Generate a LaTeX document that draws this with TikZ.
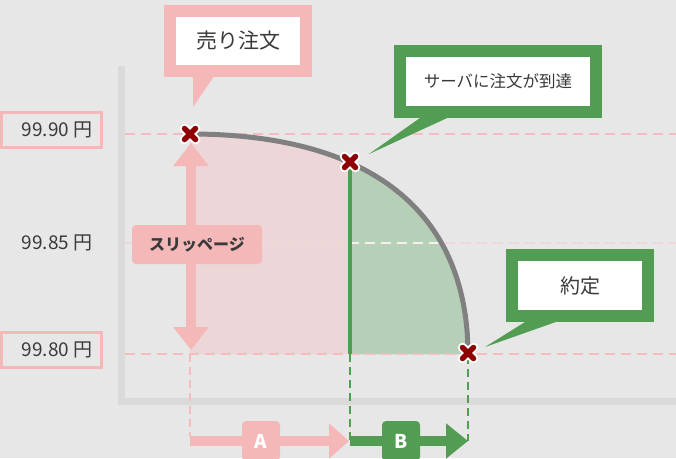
\documentclass[tikz,border=0pt]{standalone}
\usepackage{fontspec}
\setmainfont{Noto Sans CJK JP}
\usetikzlibrary{arrows.meta,shadows}
\definecolor{bg}{HTML}{E7E7E7}
\definecolor{axisc}{HTML}{DADADA}
\definecolor{pinkc}{HTML}{F5B8B8}
\definecolor{pinkdash}{HTML}{F2BDBF}
\definecolor{pinkfill}{HTML}{ECD6D8}
\definecolor{greenc}{HTML}{529C53}
\definecolor{greenfill}{HTML}{B6CFB7}
\definecolor{xred}{HTML}{8E0000}
\definecolor{txt}{HTML}{3A3A3A}
\definecolor{curvec}{HTML}{808080}
\definecolor{faint}{HTML}{F0D6D7}
\begin{document}
\begin{tikzpicture}[x=1pt,y=-1pt,
  pricebox/.style={draw=pinkc,line width=3pt,minimum width=100pt,minimum height=35pt,inner sep=0pt},
  pricetxt/.style={text=txt,font=\fontsize{19}{19}\selectfont,inner sep=0pt},
  hdash/.style={pinkdash,line width=2pt,dash pattern=on 10pt off 6pt},
  vdashp/.style={pinkdash,line width=2pt,dash pattern=on 8pt off 5pt},
  vdashg/.style={greenc,line width=2pt,dash pattern=on 8pt off 5pt},
  callp/.style={draw=pinkc,fill=white,line width=12pt,inner sep=0pt,text=txt,
    drop shadow={opacity=0.08,shadow xshift=3pt,shadow yshift=-3pt}},
  callg/.style={draw=greenc,fill=white,line width=12pt,inner sep=0pt,text=txt,
    drop shadow={opacity=0.08,shadow xshift=3pt,shadow yshift=-3pt}},
  tagbox/.style={rounded corners=4pt,inner sep=0pt,text=white,font=\bfseries\fontsize{19}{19}\selectfont},
  bigarrow/.style={line width=10pt},
  xmarkw/.style={white,line width=9.5pt,line cap=round},
  xmarkr/.style={xred,line width=5.5pt,line cap=round}
]
\useasboundingbox (0,0) rectangle (676,458);
\fill[bg] (0,0) rectangle (676,458);

% axis
\draw[axisc,line width=7pt,line join=miter] (121,66) -- (121,401.5) -- (676,401.5);

% key points
\coordinate (p1) at (190,134);
\coordinate (p2) at (350,162);
\coordinate (p3) at (468,353);
\coordinate (g0) at (350,354);
\coordinate (b0) at (190,354);

% fills
\fill[pinkfill] (b0) -- (p1) .. controls (370,134) and (467,211) .. (p3) -- (468,354) -- cycle;
\begin{scope}
  \clip (350,0) rectangle (676,458);
  \fill[greenfill] (b0) -- (p1) .. controls (370,134) and (467,211) .. (p3) -- (468,354) -- cycle;
\end{scope}

% horizontal price lines
\draw[hdash] (125,134) -- (676,134);
\draw[hdash] (125,354) -- (676,354);
\draw[faint,line width=2pt,dash pattern=on 10pt off 6pt] (125,243) -- (676,243);
\begin{scope}
  \clip (350,0) rectangle (676,458);
  \clip (b0) -- (p1) .. controls (370,134) and (467,211) .. (p3) -- (468,354) -- cycle;
  \draw[white,opacity=0.6,line width=2pt,dash pattern=on 10pt off 6pt] (125,243) -- (676,243);
\end{scope}

% price labels
\node[pricebox] (l90box) at (51.5,130) {};
\node[pricetxt] (l90) at (57,130) {99.90 円};
\node[pricetxt] (l85) at (57,243) {99.85 円};
\node[pricebox] (l80box) at (51.5,349.5) {};
\node[pricetxt] (l80) at (57,349.5) {99.80 円};

% vertical dashed drops
\coordinate (a0) at (190,441);
\coordinate (a1) at (349,441);
\coordinate (bb0) at (350,441);
\coordinate (bb1) at (468,441);
\draw[vdashp] (b0) -- (190,437);
\draw[vdashg] (g0) -- (bb0);
\draw[vdashg] (468,356) -- (bb1);

% green vertical line at server arrival
\draw[greenc,line width=4pt] (p2) -- (g0);

% curve
\draw[curvec,line width=5pt] (p1) .. controls (370,134) and (467,211) .. (p3);

% slippage arrow
\coordinate (s0) at (191,143);
\coordinate (s1) at (191,350);
\draw[pinkc,bigarrow,{Triangle[width=34pt,length=23pt]}-{Triangle[width=34pt,length=23pt]}] (s0) -- (s1);
\node[tagbox,fill=pinkc,text=txt,minimum width=130pt,minimum height=39pt,font=\bfseries\fontsize{16}{16}\selectfont] (slip) at (197,244.5) {スリッページ};

% A / B arrows
\draw[pinkc,bigarrow,-{Triangle[width=34pt,length=20pt]}] (a0) -- (a1);
\draw[greenc,bigarrow,-{Triangle[width=34pt,length=22pt]}] (bb0) -- (bb1);
\node[tagbox,fill=pinkc,minimum width=38pt,minimum height=40pt] (A) at (261,441) {A};
\node[tagbox,fill=greenc,minimum width=38pt,minimum height=40pt] (B) at (401,441) {B};

% x marks
\foreach \p in {p1,p2,p3}{
  \draw[xmarkw] ([shift={(-5.5,-5.5)}]\p) -- ([shift={(5.5,5.5)}]\p)
                ([shift={(-5.5,5.5)}]\p) -- ([shift={(5.5,-5.5)}]\p);
  \draw[xmarkr] ([shift={(-5.5,-5.5)}]\p) -- ([shift={(5.5,5.5)}]\p)
                ([shift={(-5.5,5.5)}]\p) -- ([shift={(5.5,-5.5)}]\p);
}

% callouts
\coordinate (t1) at (193,107);
\coordinate (t2) at (369,154);
\coordinate (t3) at (485,347);
\fill[pinkc] (193,72) -- (t1) -- (217,72) -- cycle;
\node[callp,minimum width=136pt,minimum height=60pt,font=\fontsize{21}{21}\selectfont] (sell) at (238,41) {売り注文};
\fill[greenc] (427,113) -- (t2) -- (458,113) -- cycle;
\node[callg,minimum width=196pt,minimum height=61pt,font=\fontsize{16.5}{16.5}\selectfont] (server) at (498,81.5) {サーバに注文が到達};
\fill[greenc] (533,317) -- (t3) -- (570,317) -- cycle;
\node[callg,minimum width=136pt,minimum height=61pt,font=\fontsize{20}{20}\selectfont] (exec) at (580,285.5) {約定};
\end{tikzpicture}
\end{document}
